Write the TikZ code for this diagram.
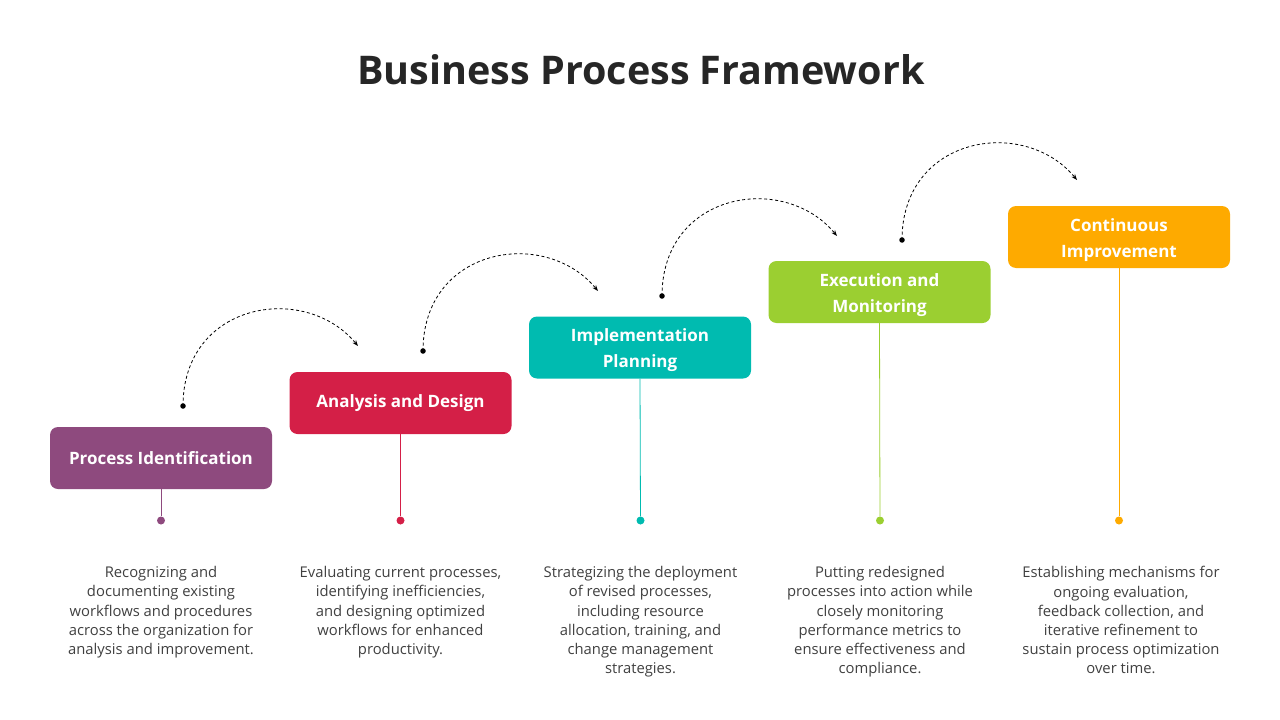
\documentclass[tikz,border=0pt]{standalone}
\usepackage{fontspec}
\setmainfont{Open Sans}
\usetikzlibrary{arrows.meta}
\definecolor{cA}{HTML}{8E4A7E}
\definecolor{cB}{HTML}{D41F47}
\definecolor{cC}{HTML}{00BBB0}
\definecolor{cD}{HTML}{9BCF31}
\definecolor{cE}{HTML}{FEAA00}
\definecolor{titlec}{HTML}{262626}
\definecolor{descc}{HTML}{404040}
\tikzset{
  stepbox/.style={rounded corners=8pt, minimum width=222pt, minimum height=62pt, inner sep=0pt,
    text=white, align=center, font=\fontsize{17}{26}\selectfont\bfseries},
  twoline/.style={text height=44.5pt, text depth=4.5pt},
  dotn/.style={circle, inner sep=0pt, minimum size=8pt},
  desc/.style={align=center, text=descc, font=\fontsize{14.8}{19.2}\selectfont, anchor=north},
  arc/.style={dashed, dash pattern=on 3pt off 2.5pt, line width=0.8pt, -{Stealth[length=6pt,width=4.5pt]}},
  startdot/.style={circle, fill=black, inner sep=0pt, minimum size=5.5pt},
}
\begin{document}
\begin{tikzpicture}[x=1pt,y=-1pt]
\useasboundingbox (0,0) rectangle (1280,720);
\node[font=\fontsize{39.5}{44}\selectfont\bfseries, text=titlec] (title) at (641,70) {Business Process Framework};

\node[stepbox, fill=cA] (b1) at (161,458) {Process Identification};
\node[stepbox, fill=cB] (b2) at (400.5,403) {Analysis and Design};
\node[stepbox, twoline, fill=cC] (b3) at (640,347.5) {Implementation\\Planning};
\node[stepbox, twoline, fill=cD] (b4) at (879.5,292) {Execution and\\Monitoring};
\node[stepbox, twoline, fill=cE] (b5) at (1119,237) {Continuous\\Improvement};

\node[dotn, fill=cA] (d1) at (161,520.5) {};
\node[dotn, fill=cB] (d2) at (400.5,520.5) {};
\node[dotn, fill=cC] (d3) at (640.5,520.5) {};
\node[dotn, fill=cD] (d4) at (880,520.5) {};
\node[dotn, fill=cE] (d5) at (1119,520.5) {};

\draw[cA, line width=0.8pt] (b1.south) -- (d1);
\draw[cB, line width=0.8pt] (b2.south) -- (d2);
\draw[cC, line width=0.8pt] (b3.south) -- (d3);
\draw[cD, line width=0.8pt] (b4.south) -- (d4);
\draw[cE, line width=0.8pt] (b5.south) -- (d5);

\node[desc] (t1) at (161,563) {Recognizing and\\documenting existing\\workflows and procedures\\across the organization for\\analysis and improvement.};
\node[desc] (t2) at (400.5,563) {Evaluating current processes,\\identifying inefficiencies,\\and designing optimized\\workflows for enhanced\\productivity.};
\node[desc] (t3) at (640.5,563) {Strategizing the deployment\\of revised processes,\\including resource\\allocation, training, and\\change management\\strategies.};
\node[desc] (t4) at (880,563) {Putting redesigned\\processes into action while\\closely monitoring\\performance metrics to\\ensure effectiveness and\\compliance.};
\node[desc] (t5) at (1121,563) {Establishing mechanisms for\\ongoing evaluation,\\feedback collection, and\\iterative refinement to\\sustain process optimization\\over time.};

\foreach \i/\x/\y in {1/183/406, 2/423/351, 3/662/296, 4/902/240} {
  \node[startdot] (s\i) at (\x,\y) {};
  \coordinate (e\i) at (\x+175,\y-60);
  \draw[arc] (s\i.center) .. controls (\x,\y-104) and (\x+122,\y-124) .. (e\i);
}
\end{tikzpicture}
\end{document}
